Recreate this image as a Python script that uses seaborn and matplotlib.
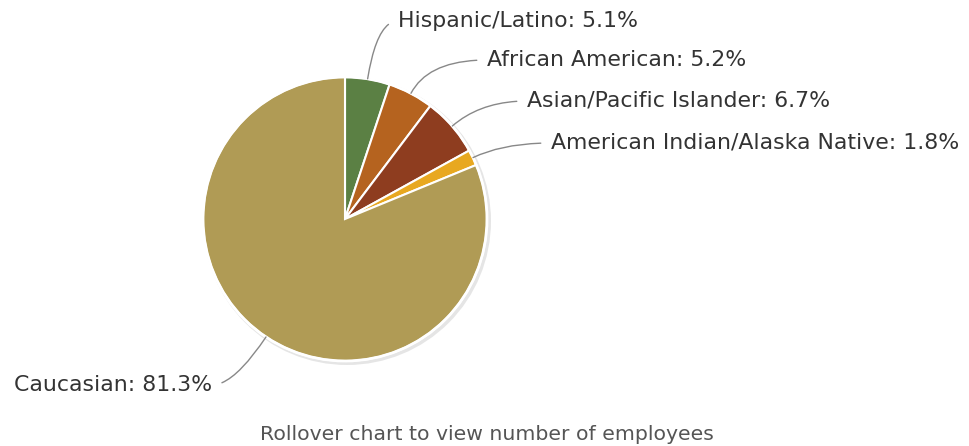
import numpy as np
import seaborn as sns
import matplotlib.pyplot as plt
from matplotlib.patches import Circle

sns.set_theme(style="white")
plt.rcParams['font.family'] = ['DejaVu Sans']

# data
groups = ["Hispanic/Latino", "African American", "Asian/Pacific Islander",
          "American Indian/Alaska Native", "Caucasian"]
shares = [5.1, 5.2, 6.7, 1.8, 81.3]
colors = ["#5b8044", "#b5631f", "#8e3d1f", "#e8a820", "#b09b55"]

# label placement in pixel coords (left/right anchor x, center y from top)
label_pos = [(398, 21), (487, 60), (527, 101), (551, 143), (212, 385)]

W, H = 969, 446
fig = plt.figure(figsize=(W / 100, H / 100), dpi=100)
ax = fig.add_axes([0, 0, 1, 1])

cx, cy, r = 345, H - 219, 142

# soft shadow behind the pie
ax.add_patch(Circle((cx + 2, cy - 2), r + 2, color="#999999", alpha=0.25, zorder=0, lw=0))

wedges, _ = ax.pie(shares, colors=colors, startangle=90, counterclock=False,
                   center=(cx, cy), radius=r,
                   wedgeprops=dict(edgecolor="white", linewidth=1.5))
for w in wedges:
    w.set_zorder(2)
ax.add_patch(Circle((cx, cy), r, fill=False, edgecolor="white", lw=2, zorder=3))

for w, name, val, (tx, ty) in zip(wedges, groups, shares, label_pos):
    mid = np.deg2rad((w.theta1 + w.theta2) / 2)
    px, py = cx + r * np.cos(mid), cy + r * np.sin(mid)
    right = np.cos(mid) >= 0
    ax.annotate(f"{name}: {val}%", xy=(px, py), xytext=(tx, H - ty),
                ha="left" if right else "right", va="center",
                fontsize=15.8, color="#333333",
                arrowprops=dict(arrowstyle="-", color="#888888", lw=1,
                                relpos=(0, 0.5) if right else (1, 0.5),
                                shrinkA=5, shrinkB=0,
                                connectionstyle=f"angle3,angleA=0,angleB={np.rad2deg(mid):.1f}"))

ax.text(487, H - 434, "Rollover chart to view number of employees",
        ha="center", va="center", fontsize=14.7, color="#555555")

ax.set_xlim(0, W)
ax.set_ylim(0, H)
ax.set_aspect("equal")
ax.axis("off")

fig.savefig("out.png", dpi=100)
